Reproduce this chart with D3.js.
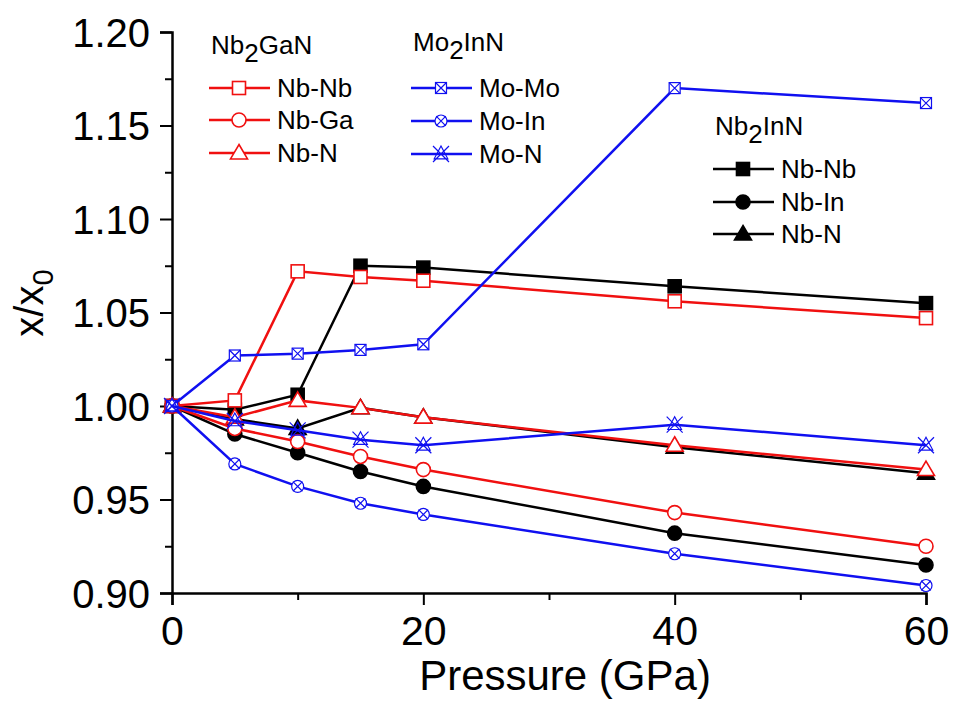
<!DOCTYPE html>
<html>
<head>
<meta charset="utf-8">
<script src="https://d3js.org/d3.v7.min.js"></script>
<style>
body { margin: 0; background: #fff; }
text { font-family: Arial, "Liberation Sans", sans-serif; fill: #000; }
</style>
</head>
<body>
<svg id="chart" width="954" height="701"></svg>
<script>
// pressure points (GPa)
var pressure = [0, 5, 10, 15, 20, 40, 60];

// Nb2GaN
var gaNbNb = [1.000, 1.003, 1.072, 1.069, 1.067, 1.056, 1.047];
var gaNbGa = [1.000, 0.988, 0.981, 0.973, 0.966, 0.943, 0.925];
var gaNbN  = [1.000, 0.994, 1.003, 0.999, 0.994, 0.979, 0.966];

// Nb2InN
var inNbNb = [1.000, 0.998, 1.006, 1.075, 1.074, 1.064, 1.055];
var inNbIn = [1.000, 0.985, 0.975, 0.965, 0.957, 0.932, 0.915];
var inNbN  = [1.000, 0.993, 0.988, 0.999, 0.994, 0.978, 0.964];

// Mo2InN
var moMoMo = [1.000, 1.027, 1.028, 1.030, 1.033, 1.170, 1.162];
var moMoIn = [1.000, 0.969, 0.957, 0.948, 0.942, 0.921, 0.904];
var moMoN  = [1.000, 0.992, 0.987, 0.982, 0.979, 0.990, 0.979];

var xTicks = [0, 20, 40, 60];
var yTicks = [0.90, 0.95, 1.00, 1.05, 1.10, 1.15, 1.20];

var RED = "#f01010", BLUE = "#1010f0", BLACK = "#000";

var series = [
  {name: "Nb-Nb", group: "in", vals: inNbNb, color: BLACK, sym: "square", fill: true},
  {name: "Nb-In", group: "in", vals: inNbIn, color: BLACK, sym: "circle", fill: true},
  {name: "Nb-N",  group: "in", vals: inNbN,  color: BLACK, sym: "triangle", fill: true},
  {name: "Nb-Nb", group: "ga", vals: gaNbNb, color: RED, sym: "square", fill: false},
  {name: "Nb-Ga", group: "ga", vals: gaNbGa, color: RED, sym: "circle", fill: false},
  {name: "Nb-N",  group: "ga", vals: gaNbN,  color: RED, sym: "triangle", fill: false},
  {name: "Mo-Mo", group: "mo", vals: moMoMo, color: BLUE, sym: "squarex", fill: false},
  {name: "Mo-In", group: "mo", vals: moMoIn, color: BLUE, sym: "circlex", fill: false},
  {name: "Mo-N",  group: "mo", vals: moMoN,  color: BLUE, sym: "trix", fill: false}
];

var svg = d3.select("#chart");
var x = d3.scaleLinear().domain([0, 60]).range([172, 926]);
var y = d3.scaleLinear().domain([0.90, 1.20]).range([593, 32]);

// axes
var xAxis = svg.append("g").attr("transform", "translate(0,593)")
  .call(d3.axisBottom(x).tickValues(xTicks).tickSize(12).tickPadding(10).tickFormat(d3.format("d")));
svg.append("g").attr("transform", "translate(0,593)")
  .call(d3.axisBottom(x).tickValues([10, 30, 50]).tickSize(7).tickFormat(""))
  .select(".domain").remove();
var yAxis = svg.append("g").attr("transform", "translate(172,0)")
  .call(d3.axisLeft(y).tickValues(yTicks).tickSize(12).tickPadding(10).tickFormat(d3.format(".2f")));
svg.append("g").attr("transform", "translate(172,0)")
  .call(d3.axisLeft(y).tickValues(d3.range(0.925, 1.2, 0.05)).tickSize(7).tickFormat(""))
  .select(".domain").remove();

svg.selectAll(".domain").attr("stroke", "#000").attr("stroke-width", 2.5);
svg.selectAll(".tick line").attr("stroke", "#000").attr("stroke-width", 2);
xAxis.selectAll("text").style("font-size", "41px").attr("dy", "0.72em");
yAxis.selectAll("text").style("font-size", "40px").attr("dy", "0.36em");

svg.append("text").attr("x", 565).attr("y", 690).attr("text-anchor", "middle")
  .style("font-size", "42px").text("Pressure (GPa)");

var yl = svg.append("text").attr("transform", "translate(43,303) rotate(-90)")
  .attr("text-anchor", "middle").style("font-size", "40px");
yl.append("tspan").text("x/x");
yl.append("tspan").attr("dy", 10).style("font-size", "29px").text("0");

// markers
function drawMarker(g, s, cx, cy) {
  var fill = s.fill ? s.color : "#fff";
  var thin = s.color === BLUE;
  var sw = thin ? 1.2 : 1.6;
  if (s.sym === "square" || s.sym === "squarex") {
    var h = s.sym === "square" ? 6.5 : 5.5;
    g.append("rect").attr("x", cx - h).attr("y", cy - h).attr("width", 2 * h).attr("height", 2 * h)
      .attr("fill", fill).attr("stroke", s.color).attr("stroke-width", sw);
    if (s.sym === "squarex")
      g.append("path").attr("d", "M" + (cx - h) + "," + (cy - h) + "L" + (cx + h) + "," + (cy + h) +
        "M" + (cx + h) + "," + (cy - h) + "L" + (cx - h) + "," + (cy + h))
        .attr("stroke", s.color).attr("stroke-width", sw).attr("fill", "none");
  } else if (s.sym === "circle" || s.sym === "circlex") {
    var r = s.sym === "circle" ? 7 : 6;
    g.append("circle").attr("cx", cx).attr("cy", cy).attr("r", r)
      .attr("fill", fill).attr("stroke", s.color).attr("stroke-width", sw);
    if (s.sym === "circlex") {
      var k = r * 0.8;
      g.append("path").attr("d", "M" + (cx - k) + "," + (cy - k) + "L" + (cx + k) + "," + (cy + k) +
        "M" + (cx + k) + "," + (cy - k) + "L" + (cx - k) + "," + (cy + k))
        .attr("stroke", s.color).attr("stroke-width", sw).attr("fill", "none");
    }
  } else if (s.sym === "triangle") {
    var t = 8.5;
    g.append("path").attr("d", "M" + cx + "," + (cy - t) + "L" + (cx + t) + "," + (cy + t * 0.7) +
      "L" + (cx - t) + "," + (cy + t * 0.7) + "Z")
      .attr("fill", fill).attr("stroke", s.color).attr("stroke-width", sw);
  } else if (s.sym === "trix") {
    var a = 8;
    g.append("path").attr("d", "M" + cx + "," + (cy - a) + "L" + (cx + a * 0.85) + "," + (cy + a * 0.6) +
      "L" + (cx - a * 0.85) + "," + (cy + a * 0.6) + "Z" +
      "M" + (cx - a) + "," + (cy - a) + "L" + (cx + a) + "," + (cy + a) +
      "M" + (cx + a) + "," + (cy - a) + "L" + (cx - a) + "," + (cy + a))
      .attr("fill", "none").attr("stroke", s.color).attr("stroke-width", sw);
  }
}

var line = d3.line().x(function(d) { return x(d[0]); }).y(function(d) { return y(d[1]); });

series.forEach(function(s) {
  var pts = pressure.map(function(p, i) { return [p, s.vals[i]]; });
  var g = svg.append("g");
  g.append("path").datum(pts).attr("d", line).attr("fill", "none")
    .attr("stroke", s.color).attr("stroke-width", 2.5);
  pts.forEach(function(d) { drawMarker(g, s, x(d[0]), y(d[1])); });
});

// legends
function legend(title1, sub, title2, grp, lx, ty, rows) {
  var t = svg.append("text").attr("x", lx + 2).attr("y", ty).style("font-size", "26px");
  t.append("tspan").text(title1);
  t.append("tspan").attr("dy", 8).style("font-size", "26px").text(sub);
  t.append("tspan").attr("dy", -8).text(title2);
  series.filter(function(s) { return s.group === grp; }).forEach(function(s, i) {
    var yy = rows[i];
    var g = svg.append("g");
    g.append("line").attr("x1", lx).attr("x2", lx + 61).attr("y1", yy).attr("y2", yy)
      .attr("stroke", s.color).attr("stroke-width", 2.5);
    drawMarker(g, s, lx + 30, yy);
    svg.append("text").attr("x", lx + 68).attr("y", yy).attr("dy", "0.36em")
      .style("font-size", "26px").text(s.name);
  });
}
legend("Nb", "2", "GaN", "ga", 209, 54, [88, 120, 153]);
legend("Mo", "2", "InN", "mo", 411, 51, [88, 121, 154]);
legend("Nb", "2", "InN", "in", 713, 135, [169, 202, 234]);
</script>
</body>
</html>
